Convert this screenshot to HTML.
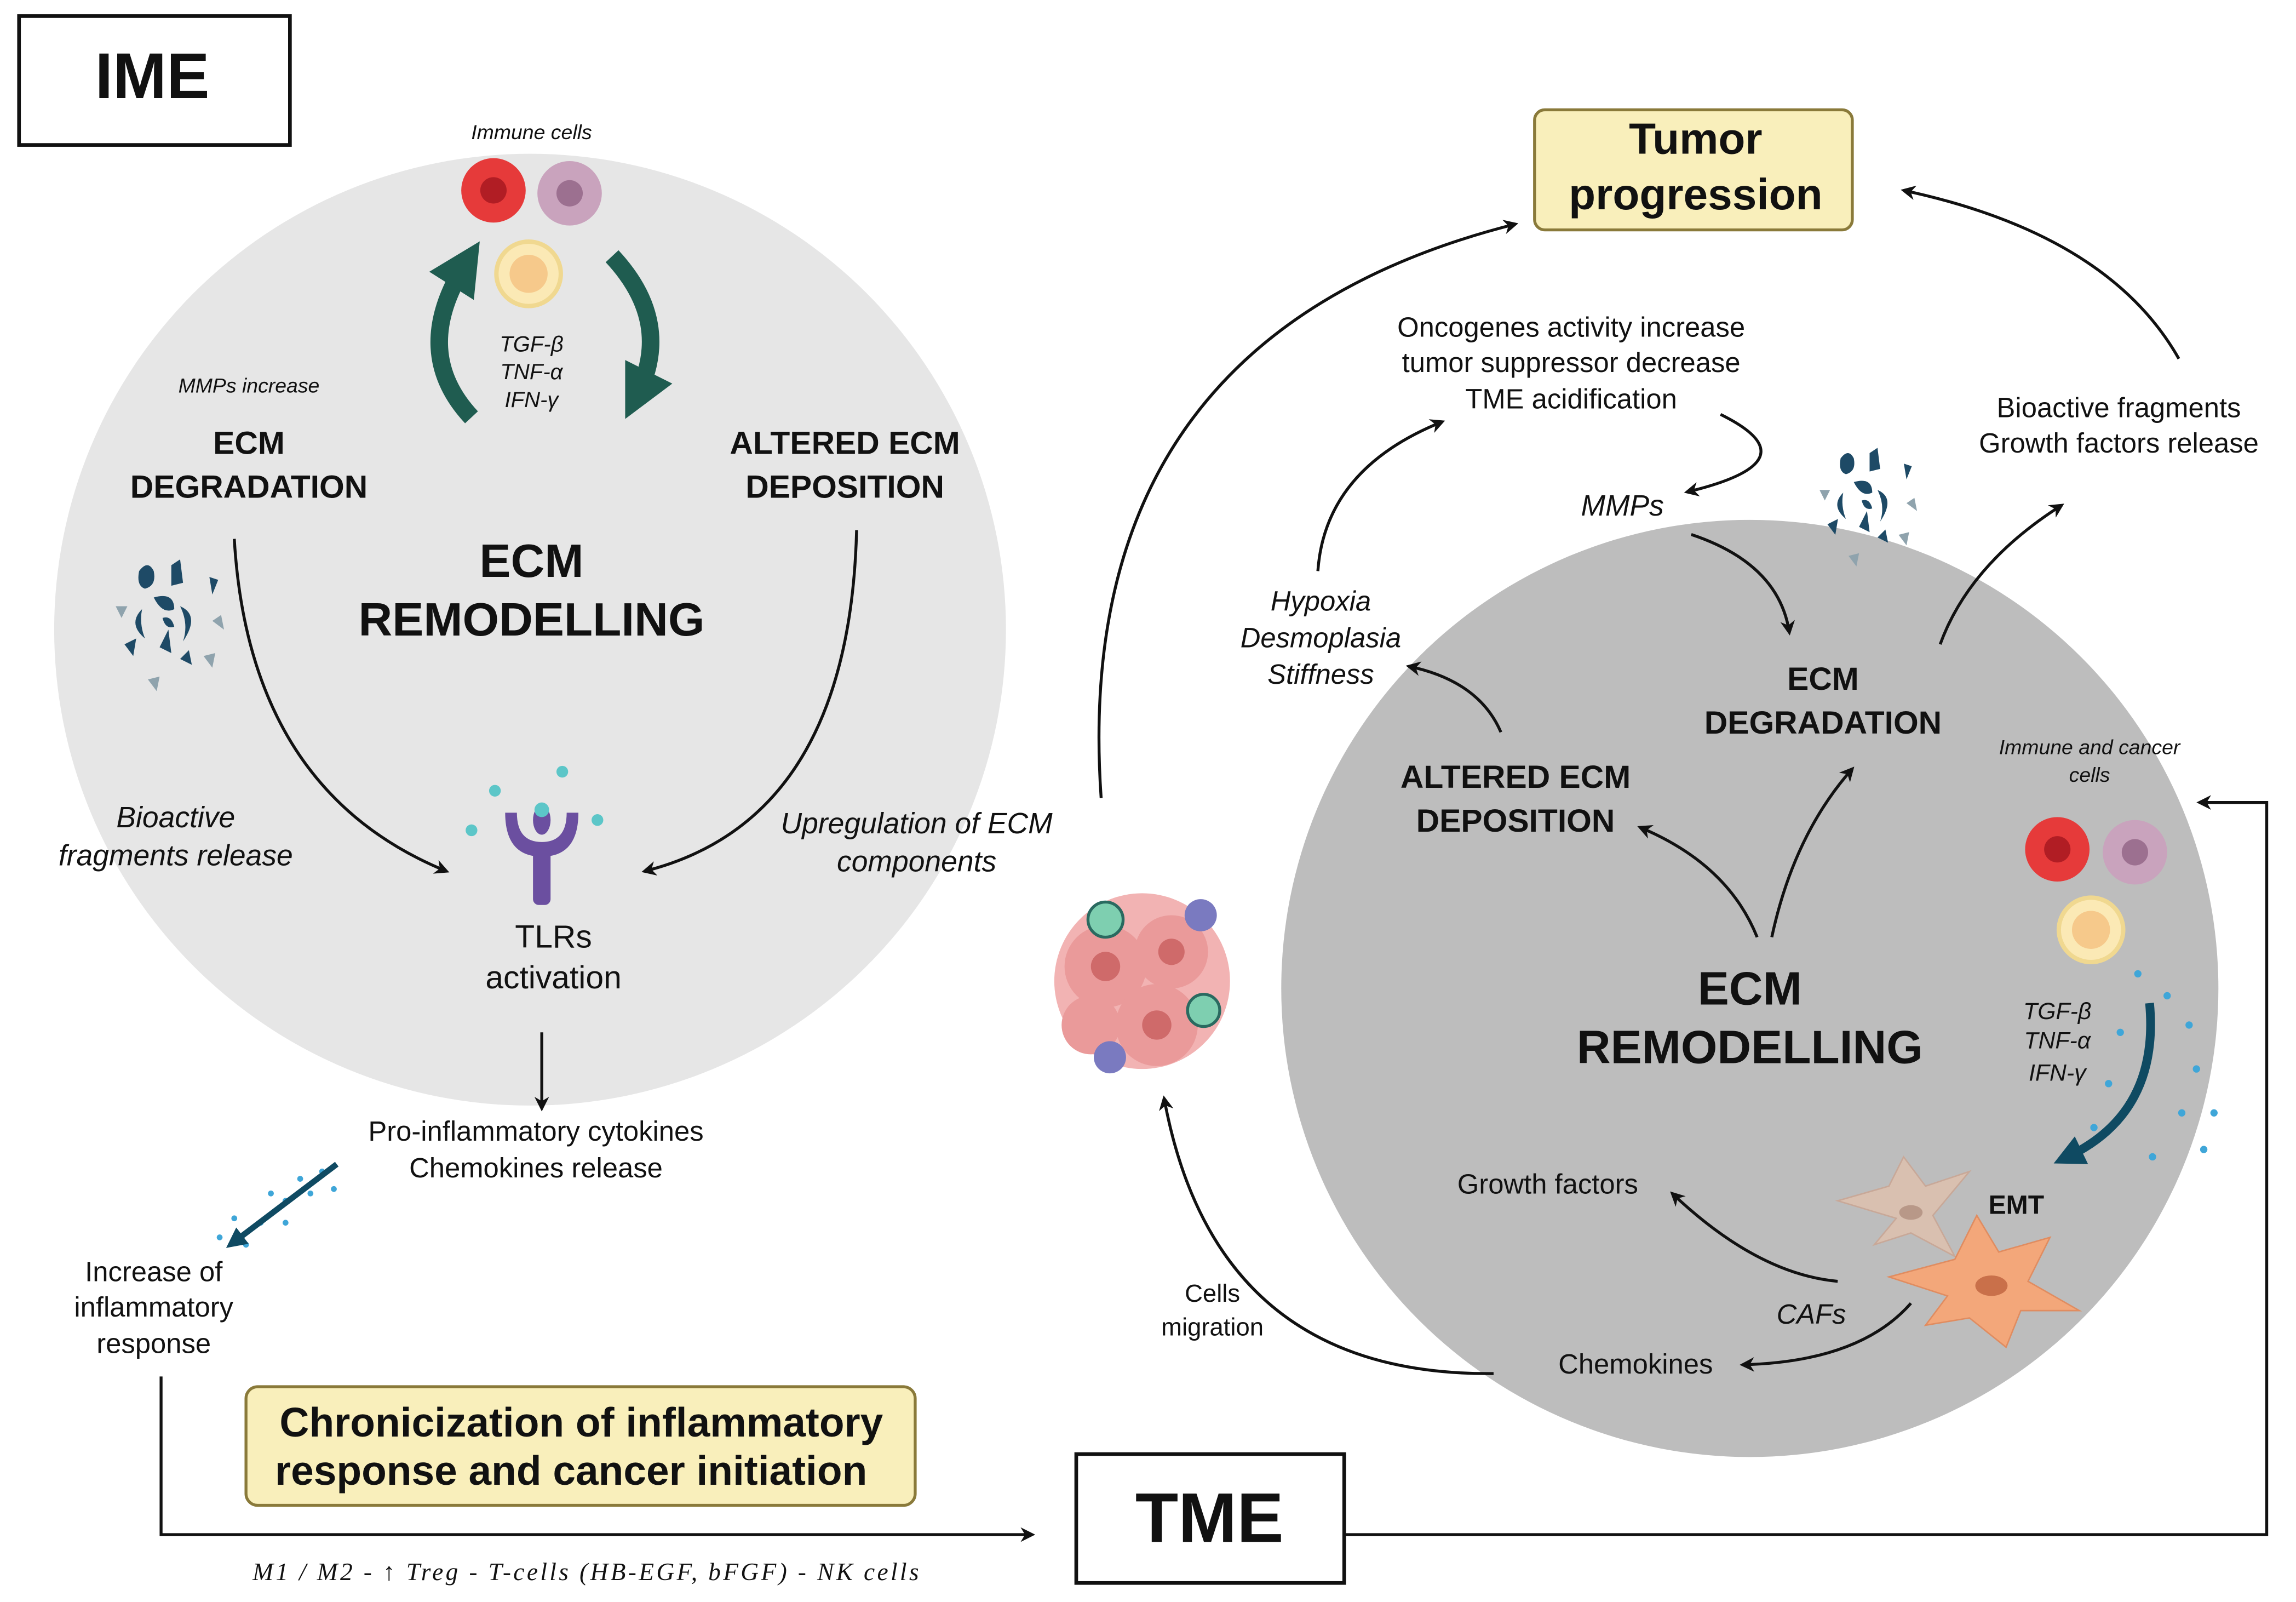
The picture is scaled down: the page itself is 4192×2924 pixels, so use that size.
<!DOCTYPE html>
<html><head><meta charset="utf-8"><style>
html,body{margin:0;padding:0;background:#fff;width:4192px;height:2924px;overflow:hidden}
svg{display:block}
text{font-family:"Liberation Sans Narrow","Liberation Sans",sans-serif;fill:#111;text-anchor:middle}
.b{font-weight:bold}
.i{font-style:italic}
</style></head><body>
<svg width="4192" height="2924" viewBox="0 0 1568 1094" preserveAspectRatio="none" xmlns="http://www.w3.org/2000/svg">
<defs>
<marker id="a" viewBox="0 0 10 10" refX="8" refY="5" markerWidth="5" markerHeight="5" orient="auto"><path d="M0,0 L10,5 L0,10 L3,5 z" fill="#111"/></marker>
<marker id="g" viewBox="0 0 10 10" refX="5" refY="5" markerWidth="3" markerHeight="3" orient="auto"><path d="M0,0 L10,5 L0,10 z" fill="#1f5c50"/></marker>
<marker id="bl" viewBox="0 0 10 10" refX="5" refY="5" markerWidth="3.5" markerHeight="3.5" orient="auto"><path d="M0,0 L10,5 L0,10 z" fill="#0f4a62"/></marker>
<g id="frag">
<g fill="#1e4a66">
<path d="M-20,-30 q6,-8 10,0 q2,10 -6,12 q-6,-2 -4,-12z"/><path d="M2,-34 l6,-4 l2,16 l-8,2z"/><path d="M-10,-12 q14,-4 14,8 q-8,4 -14,-8z"/><path d="M8,-6 q14,6 2,24 q4,-12 -2,-24z"/><path d="M-18,-4 q-10,10 2,20 q-4,-10 -2,-20z"/><path d="M-30,20 l8,-4 l-2,12z"/><path d="M-6,22 l6,-12 l2,16z"/><path d="M8,30 l6,-6 l2,10z"/><path d="M28,-26 l6,2 l-4,10z"/><path d="M-4,2 q6,-2 8,6 q-6,2 -8,-6z"/>
</g>
<g fill="#8fa3ad"><path d="M-36,-6 l8,0 l-4,8z"/><path d="M30,4 l6,-4 l2,10z"/><path d="M24,28 l8,-2 l-2,10z"/><path d="M-14,44 l8,-2 l-2,10z"/></g>
</g>
</defs>
<rect width="1568" height="1094" fill="#fff"/>

<!-- IME box -->
<rect x="13" y="11" width="185" height="88" fill="#fff" stroke="#111" stroke-width="2.5"/>
<text x="104" y="67" class="b" font-size="44">IME</text>

<!-- left circle -->
<circle cx="362" cy="430" r="325" fill="#e6e6e6"/>
<text x="363" y="95" class="i" font-size="14">Immune cells</text>
<circle cx="337" cy="130" r="22" fill="#e63a3a"/><circle cx="337" cy="130" r="9" fill="#b11d24"/>
<circle cx="389" cy="132" r="22" fill="#c9a3bd"/><circle cx="389" cy="132" r="9" fill="#9c7090"/>
<circle cx="361" cy="187" r="22" fill="#fbe9b5" stroke="#f0d890" stroke-width="3"/><circle cx="361" cy="187" r="13" fill="#f6c98b"/>
<path d="M322,285 Q280,240 318,180" fill="none" stroke="#1f5c50" stroke-width="12" marker-end="url(#g)"/>
<path d="M418,175 Q460,220 435,270" fill="none" stroke="#1f5c50" stroke-width="12" marker-end="url(#g)"/>
<text x="363" y="240" class="i" font-size="15">TGF-β</text>
<text x="363" y="259" class="i" font-size="15">TNF-α</text>
<text x="363" y="278" class="i" font-size="15">IFN-γ</text>
<text x="170" y="268" class="i" font-size="14">MMPs increase</text>
<text x="170" y="310" class="b" font-size="22">ECM</text>
<text x="170" y="340" class="b" font-size="22">DEGRADATION</text>
<text x="577" y="310" class="b" font-size="22">ALTERED ECM</text>
<text x="577" y="340" class="b" font-size="22">DEPOSITION</text>
<text x="363" y="394" class="b" font-size="32">ECM</text>
<text x="363" y="434" class="b" font-size="32">REMODELLING</text>
<use href="#frag" transform="translate(115,420)"/>
<path d="M160,368 Q170,540 305,595" fill="none" stroke="#111" stroke-width="2" marker-end="url(#a)"/>
<path d="M585,362 Q580,560 440,595" fill="none" stroke="#111" stroke-width="2" marker-end="url(#a)"/>
<text x="120" y="565" class="i" font-size="20">Bioactive</text>
<text x="120" y="591" class="i" font-size="20">fragments release</text>
<text x="626" y="569" class="i" font-size="20">Upregulation of ECM</text>
<text x="626" y="595" class="i" font-size="20">components</text>
<!-- TLR -->
<g fill="#6b4fa0"><path d="M345,555 q0,30 25,30 q25,0 25,-30 l-8,0 q0,20 -17,20 q-17,0 -17,-20z"/><rect x="364" y="578" width="12" height="40" rx="4"/><ellipse cx="370" cy="560" rx="6" ry="10"/></g>
<g fill="#5cc6c8"><circle cx="370" cy="553" r="5"/><circle cx="338" cy="540" r="4"/><circle cx="384" cy="527" r="4"/><circle cx="322" cy="567" r="4"/><circle cx="408" cy="560" r="4"/></g>
<text x="378" y="647" font-size="22">TLRs</text>
<text x="378" y="675" font-size="22">activation</text>
<path d="M370,705 L370,757" fill="none" stroke="#111" stroke-width="2" marker-end="url(#a)"/>
<text x="366" y="779" font-size="19">Pro-inflammatory cytokines</text>
<text x="366" y="804" font-size="19">Chemokines release</text>
<g fill="#3fa6d8"><circle cx="220" cy="800" r="2"/><circle cx="205" cy="805" r="2"/><circle cx="212" cy="815" r="2"/><circle cx="195" cy="820" r="2"/><circle cx="185" cy="815" r="2"/><circle cx="178" cy="835" r="2"/><circle cx="160" cy="832" r="2"/><circle cx="150" cy="845" r="2"/><circle cx="195" cy="835" r="2"/><circle cx="228" cy="812" r="2"/><circle cx="168" cy="850" r="2"/></g>
<path d="M230,795 L160,848" stroke="#0f4a62" stroke-width="4" marker-end="url(#bl)"/>
<text x="105" y="875" font-size="19">Increase of</text>
<text x="105" y="899" font-size="19">inflammatory</text>
<text x="105" y="924" font-size="19">response</text>
<rect x="168" y="947" width="457" height="81" rx="8" fill="#f9efbb" stroke="#8a7a3a" stroke-width="2"/>
<text x="397" y="981" class="b" font-size="28">Chronicization of inflammatory</text>
<text x="390" y="1014" class="b" font-size="28">response and cancer initiation</text>
<path d="M110,940 L110,1048 L705,1048" fill="none" stroke="#111" stroke-width="2" marker-end="url(#a)"/>
<text x="400" y="1079" style="font-family:'Liberation Serif',serif" class="i" font-size="17" textLength="455">M1 / M2  - ↑ Treg -  T-cells (HB-EGF, bFGF) -  NK cells</text>
<rect x="735" y="993" width="183" height="88" fill="#fff" stroke="#111" stroke-width="2.5"/>
<text x="826" y="1053" class="b" font-size="48">TME</text>
<path d="M918,1048 L1548,1048 L1548,548 L1502,548" fill="none" stroke="#111" stroke-width="2" marker-end="url(#a)"/>

<!-- right circle -->
<circle cx="1195" cy="675" r="320" fill="#bdbdbd"/>
<rect x="1048" y="75" width="217" height="82" rx="7" fill="#f9efbb" stroke="#8a7a3a" stroke-width="2"/>
<text x="1158" y="105" class="b" font-size="30">Tumor</text>
<text x="1158" y="143" class="b" font-size="30">progression</text>
<path d="M752,545 Q730,230 1035,153" fill="none" stroke="#111" stroke-width="2" marker-end="url(#a)"/>
<path d="M1488,245 Q1440,160 1300,130" fill="none" stroke="#111" stroke-width="2" marker-end="url(#a)"/>
<text x="1073" y="230" font-size="19">Oncogenes activity increase</text>
<text x="1073" y="254" font-size="19">tumor suppressor decrease</text>
<text x="1073" y="279" font-size="19">TME acidification</text>
<path d="M900,390 Q905,320 985,288" fill="none" stroke="#111" stroke-width="2" marker-end="url(#a)"/>
<path d="M1175,283 Q1240,315 1152,336" fill="none" stroke="#111" stroke-width="2" marker-end="url(#a)"/>
<text x="1108" y="352" class="i" font-size="20">MMPs</text>
<use href="#frag" transform="translate(1275,340) scale(0.9)"/>
<text x="1447" y="285" font-size="19">Bioactive fragments</text>
<text x="1447" y="309" font-size="19">Growth factors release</text>
<text x="902" y="417" class="i" font-size="19">Hypoxia</text>
<text x="902" y="442" class="i" font-size="19">Desmoplasia</text>
<text x="902" y="467" class="i" font-size="19">Stiffness</text>
<path d="M1155,365 Q1215,385 1222,432" fill="none" stroke="#111" stroke-width="2" marker-end="url(#a)"/>
<text x="1245" y="471" class="b" font-size="22">ECM</text>
<text x="1245" y="501" class="b" font-size="22">DEGRADATION</text>
<path d="M1325,440 Q1345,385 1408,345" fill="none" stroke="#111" stroke-width="2" marker-end="url(#a)"/>
<text x="1035" y="538" class="b" font-size="22">ALTERED ECM</text>
<text x="1035" y="568" class="b" font-size="22">DEPOSITION</text>
<path d="M1025,500 Q1010,465 962,455" fill="none" stroke="#111" stroke-width="2" marker-end="url(#a)"/>
<text x="1427" y="515" class="i" font-size="14">Immune and cancer</text>
<text x="1427" y="534" class="i" font-size="14">cells</text>
<circle cx="1405" cy="580" r="22" fill="#e63a3a"/><circle cx="1405" cy="580" r="9" fill="#b11d24"/>
<circle cx="1458" cy="582" r="22" fill="#c9a3bd"/><circle cx="1458" cy="582" r="9" fill="#9c7090"/>
<circle cx="1428" cy="635" r="22" fill="#fbe9b5" stroke="#f0d890" stroke-width="3"/><circle cx="1428" cy="635" r="13" fill="#f6c98b"/>
<text x="1195" y="686" class="b" font-size="32">ECM</text>
<text x="1195" y="726" class="b" font-size="32">REMODELLING</text>
<path d="M1200,640 Q1180,590 1120,565" fill="none" stroke="#111" stroke-width="2" marker-end="url(#a)"/>
<path d="M1210,640 Q1225,570 1265,525" fill="none" stroke="#111" stroke-width="2" marker-end="url(#a)"/>
<text x="1405" y="696" class="i" font-size="16">TGF-β</text>
<text x="1405" y="716" class="i" font-size="16">TNF-α</text>
<text x="1405" y="738" class="i" font-size="16">IFN-γ</text>
<g fill="#3fa6d8"><circle cx="1460" cy="665" r="2.5"/><circle cx="1480" cy="680" r="2.5"/><circle cx="1495" cy="700" r="2.5"/><circle cx="1448" cy="705" r="2.5"/><circle cx="1500" cy="730" r="2.5"/><circle cx="1440" cy="740" r="2.5"/><circle cx="1490" cy="760" r="2.5"/><circle cx="1470" cy="790" r="2.5"/><circle cx="1505" cy="785" r="2.5"/><circle cx="1430" cy="770" r="2.5"/><circle cx="1512" cy="760" r="2.5"/></g>
<path d="M1468,685 Q1475,760 1412,790" fill="none" stroke="#0f4a62" stroke-width="6" marker-end="url(#bl)"/>
<!-- tumor cluster -->
<g>
<circle cx="780" cy="670" r="60" fill="#f2b3b3"/>
<circle cx="755" cy="660" r="28" fill="#ea9a9a"/><circle cx="800" cy="650" r="25" fill="#ea9a9a"/><circle cx="790" cy="700" r="28" fill="#ea9a9a"/><circle cx="745" cy="700" r="20" fill="#ea9a9a"/>
<circle cx="755" cy="660" r="10" fill="#cf6a6a"/><circle cx="800" cy="650" r="9" fill="#cf6a6a"/><circle cx="790" cy="700" r="10" fill="#cf6a6a"/>
<circle cx="755" cy="628" r="12" fill="#7ecfb0" stroke="#2a6a60" stroke-width="2"/>
<circle cx="820" cy="625" r="11" fill="#7a7ac0"/>
<circle cx="822" cy="690" r="11" fill="#7ecfb0" stroke="#2a6a60" stroke-width="2"/>
<circle cx="758" cy="722" r="11" fill="#7a7ac0"/>
</g>
<text x="1057" y="815" font-size="19">Growth factors</text>
<text x="1377" y="829" class="b" font-size="18">EMT</text>
<text x="1237" y="904" class="i" font-size="19">CAFs</text>
<text x="1117" y="938" font-size="19">Chemokines</text>
<text x="828" y="889" font-size="17">Cells</text>
<text x="828" y="912" font-size="17">migration</text>
<!-- fibroblasts -->
<path d="M1255,820 L1290,810 L1300,790 L1315,810 L1345,800 L1320,830 L1335,858 L1305,842 L1280,850 L1295,832 z" fill="#d9c0b0" stroke="#c8a898"/>
<ellipse cx="1305" cy="828" rx="8" ry="5" fill="#b89888"/>
<path d="M1290,872 L1335,860 L1350,830 L1365,855 L1400,845 L1385,875 L1420,895 L1380,895 L1370,920 L1345,900 L1315,905 L1330,885 z" fill="#f3a77a" stroke="#e08c60"/>
<ellipse cx="1360" cy="878" rx="11" ry="7" fill="#c9704a"/>
<path d="M1255,875 Q1200,870 1142,815" fill="none" stroke="#111" stroke-width="2" marker-end="url(#a)"/>
<path d="M1305,890 Q1270,930 1190,932" fill="none" stroke="#111" stroke-width="2" marker-end="url(#a)"/>
<path d="M1020,938 Q830,940 795,750" fill="none" stroke="#111" stroke-width="2" marker-end="url(#a)"/>
</svg>
</body></html>
